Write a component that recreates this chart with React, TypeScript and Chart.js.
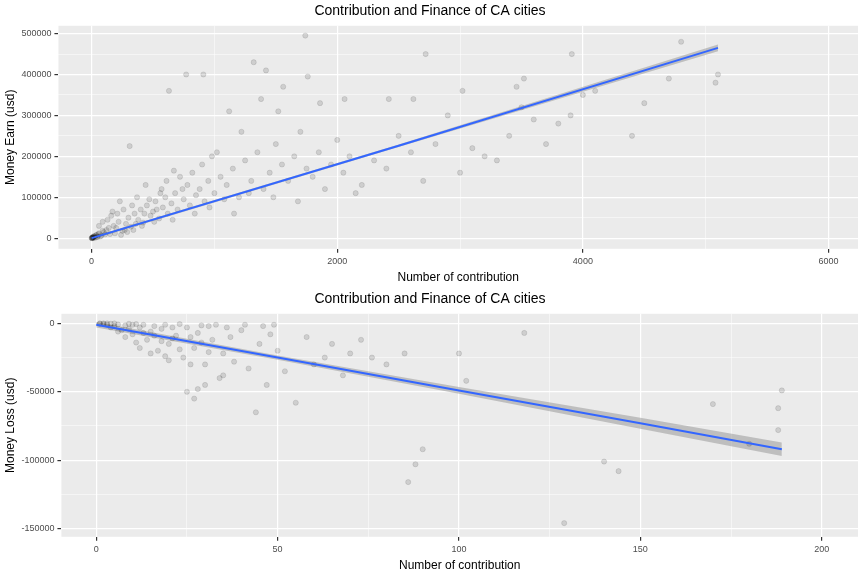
import { useEffect, useRef } from 'react';
import { Chart, registerables } from 'chart.js';

Chart.register(...registerables);

// top panel: contributions vs money earned
const earnPoints: [number, number][] = [
  [0, 0], [2, 500], [4, 1000], [6, 0], [8, 2000], [10, 1500], [12, 3000], [15, 500], [18, 4000], [20, 5000],
  [25, 2500], [30, 1000], [35, 7000], [40, 8000], [45, 3500], [50, 3000], [55, 10000], [60, 12000], [70, 4000],
  [80, 6000], [90, 18000], [100, 15000], [110, 9000], [120, 20000], [130, 45000], [150, 10000], [160, 55000],
  [180, 30000], [190, 12000], [200, 25000], [210, 60000], [220, 40000], [240, 8000], [250, 18000], [260, 70000],
  [280, 35000], [290, 15000], [300, 50000], [310, 225000], [320, 28000], [340, 20000], [350, 60000], [370, 100000],
  [380, 45000], [400, 70000], [410, 30000], [420, 38000], [440, 130000], [450, 80000], [480, 55000], [500, 65000],
  [510, 40000], [520, 90000], [550, 48000], [570, 120000], [580, 75000], [600, 100000], [620, 60000], [630, 360000],
  [650, 85000], [670, 165000], [680, 110000], [700, 70000], [720, 150000], [750, 95000], [770, 400000], [780, 130000],
  [800, 80000], [820, 160000], [850, 105000], [880, 120000], [900, 180000], [910, 400000], [920, 90000], [950, 140000],
  [980, 200000], [1000, 110000], [1020, 210000], [1050, 150000], [1100, 130000], [1120, 310000], [1150, 170000],
  [1200, 100000], [1220, 260000], [1250, 190000], [1300, 140000], [1320, 430000], [1350, 210000], [1380, 340000],
  [1400, 120000], [1420, 410000], [1450, 160000], [1500, 230000], [1520, 310000], [1550, 180000], [1560, 370000],
  [1600, 140000], [1650, 200000], [1700, 260000], [1740, 495000], [1750, 170000], [1760, 395000], [1800, 150000],
  [1850, 210000], [1860, 330000], [1900, 120000], [1950, 180000], [2000, 240000], [2050, 160000], [2060, 340000],
  [2100, 200000], [2200, 130000], [2300, 190000], [2400, 170000], [2420, 340000], [2500, 250000], [2600, 210000],
  [2620, 340000], [2700, 140000], [2720, 450000], [2800, 230000], [2900, 300000], [3000, 160000], [3020, 360000],
  [3100, 220000], [3200, 200000], [3300, 190000], [3400, 250000], [3460, 370000], [3500, 320000], [3520, 390000],
  [3600, 290000], [3700, 230000], [3800, 280000], [3900, 300000], [3910, 450000], [4000, 350000], [4100, 360000],
  [4400, 250000], [4500, 330000], [4700, 390000], [4800, 480000], [5080, 380000], [5100, 400000],
  [60, 30000], [90, 40000], [140, 25000], [170, 65000], [230, 90000], [270, 20000], [330, 80000], [360, 35000],
  [430, 60000], [470, 95000], [530, 70000], [560, 110000], [610, 140000], [660, 45000], [740, 120000], [840, 60000],
  [960, 75000], [1080, 95000], [1160, 60000], [1280, 110000], [1480, 100000], [1680, 90000], [2150, 110000],
];
const earnFitX = [0, 2500, 5100];
const earnFitY = [0, 226000, 465000];
const earnUpper = [3000, 229000, 473000];
const earnLower = [-3000, 223000, 457000];
const earnXTicks = [0, 1000, 2000, 3000, 4000, 5000, 6000];
const earnYTicks = [0, 50000, 100000, 150000, 200000, 250000, 300000, 350000, 400000, 450000, 500000];

// bottom panel: contributions vs money lost
const lossPoints: [number, number][] = [
  [1, 0], [1, -300], [2, 0], [2, -500], [3, -1000], [3, 0], [4, -200], [5, -2000], [5, 0], [6, -800], [7, -5000],
  [8, -1500], [9, -300], [10, -8000], [10, -1000], [11, -500], [12, -3000], [12, -18000], [13, -1000], [14, -12000],
  [15, -6000], [16, -2000], [17, -20000], [18, -4000], [19, -1000], [20, -15000], [20, -27000], [21, -3000],
  [22, -9000], [23, -500], [24, -25000], [25, -3000], [25, -50000], [26, -10000], [27, -18000], [27, -55000],
  [28, -7000], [28, -48000], [29, -1500], [30, -30000], [30, -45000], [31, -2000], [32, -12000], [33, -1000],
  [34, -40000], [35, -22000], [35, -38000], [36, -3000], [37, -10000], [38, -28000], [40, -5000], [41, -1000],
  [42, -33000], [44, -65000], [45, -15000], [46, -2000], [47, -45000], [48, -8000], [49, -1000], [50, -20000],
  [52, -35000], [55, -58000], [58, -10000], [60, -30000], [63, -25000], [65, -15000], [68, -38000], [70, -22000],
  [73, -12000], [76, -25000], [80, -30000], [85, -22000], [86, -116000], [88, -103000], [90, -92000],
  [100, -22000], [102, -42000], [118, -7000], [129, -146000], [140, -101000], [144, -108000], [170, -59000],
  [180, -88000], [188, -62000], [188, -78000], [189, -49000],
  [4, -3000], [6, -6000], [8, -10000], [9, -4000], [11, -14000], [13, -7000], [15, -22000], [16, -9000],
  [18, -13000], [19, -24000], [21, -11000], [23, -19000], [26, -30000], [29, -14000], [31, -21000],
];
const lossFitX = [0, 50, 100, 150, 189];
const lossFitY = [-1000, -25000, -49000, -73000, -92000];
const lossUpper = [1000, -23500, -46500, -69000, -87000];
const lossLower = [-3000, -26500, -51500, -77000, -97000];
const lossXTicks = [0, 25, 50, 75, 100, 125, 150, 175, 200];
const lossYTicks = [0, -25000, -50000, -75000, -100000, -125000, -150000];

const panelBg = {
  id: 'panelBg',
  beforeDraw(chart: any) {
    const { ctx, chartArea: a } = chart;
    ctx.save();
    ctx.fillStyle = '#EBEBEB';
    ctx.fillRect(a.left, a.top, a.right - a.left, a.bottom - a.top);
    ctx.restore();
  },
};

const font = 'Liberation Sans, Arial, sans-serif';

function makeConfig(opts: {
  points: [number, number][];
  fitX: number[]; fitY: number[]; upper: number[]; lower: number[];
  xTicks: number[]; yTicks: number[]; xMajor: number; yMajor: number;
  xMin: number; xMax: number; yMin: number; yMax: number; yTitle: string;
}): any {
  const pts = (xs: number[], ys: number[]) => xs.map((x, i) => ({ x, y: ys[i] }));
  const axis = (ticks: number[], major: number, min: number, max: number, title: string) => ({
    type: 'linear',
    min, max,
    afterBuildTicks: (s: any) => { s.ticks = ticks.map((v) => ({ value: v })); },
    ticks: {
      color: '#4D4D4D',
      font: { family: font, size: 9 },
      padding: 3,
      autoSkip: false,
      callback: (v: number) => (v % major === 0 ? String(v) : ''),
    },
    grid: {
      color: '#FFFFFF',
      lineWidth: (c: any) => (c.tick && c.tick.value % major === 0 ? 1.2 : 0.5),
      tickColor: (c: any) => (c.tick && c.tick.value % major === 0 ? '#333333' : 'rgba(0,0,0,0)'),
      tickLength: 4,
    },
    border: { display: false },
    title: { display: true, text: title, color: '#000', font: { family: font, size: 12 }, padding: 1 },
  });
  return {
    type: 'scatter',
    data: {
      datasets: [
        {
          data: opts.points.map(([x, y]) => ({ x, y })),
          pointRadius: 2.6,
          backgroundColor: 'rgba(0,0,0,0.12)',
          borderColor: 'rgba(0,0,0,0.16)',
          borderWidth: 0.6,
          order: 2,
        },
        {
          type: 'line', data: pts(opts.fitX, opts.upper), borderWidth: 0, pointRadius: 0, fill: false, order: 3,
        },
        {
          type: 'line', data: pts(opts.fitX, opts.lower), borderWidth: 0, pointRadius: 0,
          fill: '-1', backgroundColor: 'rgba(153,153,153,0.55)', order: 3,
        },
        {
          type: 'line', data: pts(opts.fitX, opts.fitY), borderColor: '#3366FF', borderWidth: 2,
          pointRadius: 0, fill: false, order: 0,
        },
      ],
    },
    options: {
      responsive: false,
      animation: false,
      layout: { padding: { left: 2, right: 6, top: 0, bottom: 2 } },
      plugins: {
        legend: { display: false },
        tooltip: { enabled: false },
        title: {
          display: true, text: 'Contribution and Finance of CA cities', color: '#000',
          font: { family: font, size: 14, weight: 'normal' }, padding: { top: 3, bottom: 6 },
        },
      },
      scales: {
        x: axis(opts.xTicks, opts.xMajor, opts.xMin, opts.xMax, 'Number of contribution'),
        y: axis(opts.yTicks, opts.yMajor, opts.yMin, opts.yMax, opts.yTitle),
      },
    },
    plugins: [panelBg],
  };
}

function Panel({ config }: { config: any }) {
  const ref = useRef<HTMLCanvasElement>(null);
  useEffect(() => {
    if (!ref.current) return;
    const chart = new Chart(ref.current, config);
    return () => chart.destroy();
  }, [config]);
  return <canvas ref={ref} width={864} height={288} style={{ display: 'block' }} />;
}

const topConfig = makeConfig({
  points: earnPoints, fitX: earnFitX, fitY: earnFitY, upper: earnUpper, lower: earnLower,
  xTicks: earnXTicks, yTicks: earnYTicks, xMajor: 2000, yMajor: 100000,
  xMin: -270, xMax: 6240, yMin: -26000, yMax: 519000, yTitle: 'Money Earn (usd)',
});
const bottomConfig = makeConfig({
  points: lossPoints, fitX: lossFitX, fitY: lossFitY, upper: lossUpper, lower: lossLower,
  xTicks: lossXTicks, yTicks: lossYTicks, xMajor: 50, yMajor: 50000,
  xMin: -9.6, xMax: 210, yMin: -156000, yMax: 7000, yTitle: 'Money Loss (usd)',
});

export default function App() {
  useEffect(() => { document.body.style.margin = '0'; }, []);
  return (
    <div style={{ width: 864, height: 576, background: '#fff' }}>
      <Panel config={topConfig} />
      <Panel config={bottomConfig} />
    </div>
  );
}
